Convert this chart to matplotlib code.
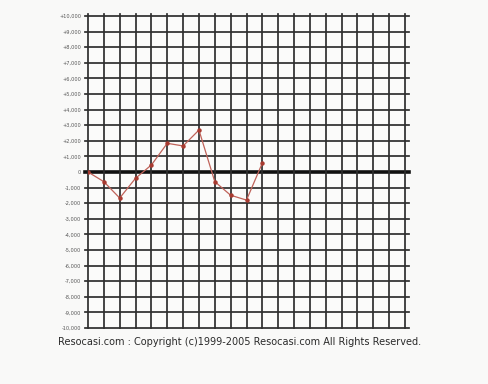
import matplotlib.pyplot as plt
import numpy as np

# values (one point per grid column)
steps = [0, 1, 2, 3, 4, 5, 6, 7, 8, 9, 10, 11]
values = [0, -620, -1670, -400, 450, 1840, 1670, 2690, -620, -1490, -1800, 580]

y_ticks = list(range(-10000, 10001, 1000))
y_labels = [("+{:,}".format(v) if v > 0 else "{:,}".format(v)) for v in y_ticks]
n_cols = 20

fig = plt.figure(figsize=(4.88, 3.84), dpi=100)
fig.patch.set_facecolor('#f9f9f8')
ax = fig.add_axes([88/488, 1 - 328/384, (405 - 88)/488, (328 - 16)/384])
ax.set_facecolor('#fbfbfa')
ax.set_xlim(0, n_cols)
ax.set_ylim(-10000, 10000)

for s in ax.spines.values():
    s.set_visible(False)

# grid
gc = '#2e2e2e'
for v in y_ticks:
    lw = 2.6 if v == 0 else 1.25
    ax.plot([-0.22, n_cols + 0.25], [v, v], color=gc if v else '#111111', lw=lw, clip_on=False, zorder=1)
for c in range(n_cols + 1):
    ax.plot([c, c], [-10000, 10150], color=gc, lw=1.25, clip_on=False, zorder=1)

ax.set_xticks([])
ax.set_yticks(y_ticks)
ax.set_yticklabels(y_labels, fontsize=3.6, color='#555555')
ax.tick_params(axis='y', length=0, pad=5)

ax.plot(steps, values, color='#c0635a', lw=0.9, marker='o', markersize=2.2,
        markerfacecolor='#a83a30', markeredgecolor='#a83a30', zorder=3)

fig.text(58/488, 1 - 342/384, 'Resocasi.com : Copyright (c)1999-2005 Resocasi.com All Rights Reserved.',
         fontsize=7.0, color='#2a2a2a', va='center', ha='left')

fig.savefig('out.png', dpi=100, facecolor=fig.get_facecolor())
